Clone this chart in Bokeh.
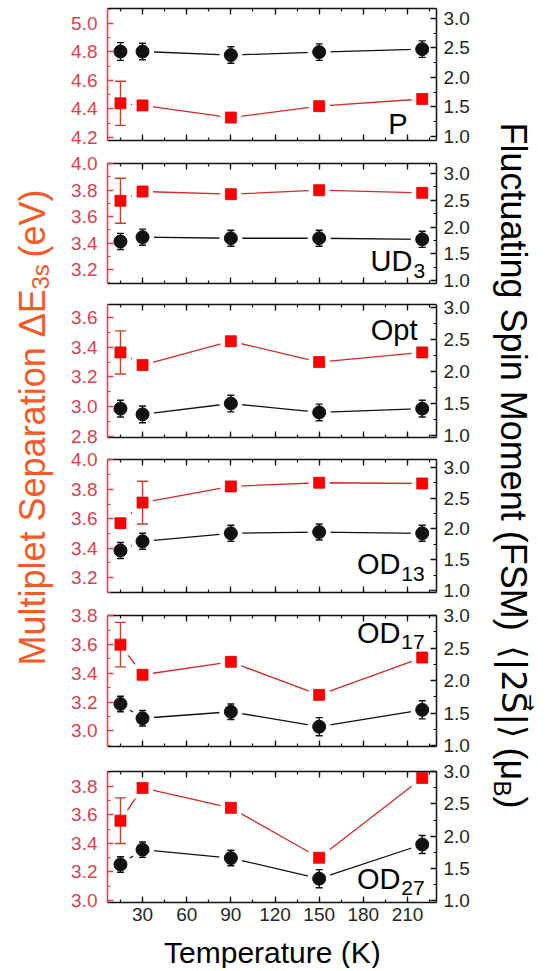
from math import pi
from bokeh.plotting import figure
from bokeh.models import Range1d, LinearAxis, SingleIntervalTicker, PrintfTickFormatter, Label
from bokeh.layouts import row, column
from bokeh.embed import file_html
from bokeh.resources import INLINE

# ---------------- data ----------------
temperature_K = [15, 30, 90, 150, 220]

sample_names = ["P", "UD", "Opt", "OD", "OD", "OD"]
sample_subscripts = ["", "3", "", "13", "17", "27"]

# Multiplet separation dE3s (eV), left axis, red squares
mult_P = [4.44, 4.425, 4.34, 4.42, 4.47]
mult_err_P = [0.155, 0, 0, 0, 0]
mult_UD3 = [3.72, 3.79, 3.77, 3.80, 3.78]
mult_err_UD3 = [0.17, 0, 0, 0, 0]
mult_Opt = [3.365, 3.28, 3.44, 3.30, 3.365]
mult_err_Opt = [0.145, 0, 0, 0, 0]
mult_OD13 = [3.57, 3.71, 3.82, 3.845, 3.84]
mult_err_OD13 = [0, 0.145, 0, 0, 0]
mult_OD17 = [3.60, 3.39, 3.48, 3.25, 3.51]
mult_err_OD17 = [0.155, 0, 0, 0, 0]
mult_OD27 = [3.56, 3.79, 3.65, 3.30, 3.86]
mult_err_OD27 = [0.16, 0, 0, 0, 0]

# Fluctuating spin moment (muB), right axis, black circles
fsm_P = [2.44, 2.44, 2.38, 2.43, 2.48]
fsm_err_P = [0.15, 0.14, 0.14, 0.14, 0.14]
fsm_UD3 = [1.73, 1.81, 1.79, 1.79, 1.77]
fsm_err_UD3 = [0.15, 0.15, 0.15, 0.15, 0.15]
fsm_Opt = [1.42, 1.33, 1.50, 1.36, 1.42]
fsm_err_Opt = [0.13, 0.13, 0.13, 0.13, 0.13]
fsm_OD13 = [1.65, 1.80, 1.93, 1.95, 1.93]
fsm_err_OD13 = [0.13, 0.13, 0.13, 0.13, 0.13]
fsm_OD17 = [1.64, 1.42, 1.52, 1.29, 1.55]
fsm_err_OD17 = [0.12, 0.12, 0.12, 0.14, 0.14]
fsm_OD27 = [1.56, 1.79, 1.66, 1.34, 1.87]
fsm_err_OD27 = [0.12, 0.12, 0.12, 0.14, 0.14]

mult_series = [mult_P, mult_UD3, mult_Opt, mult_OD13, mult_OD17, mult_OD27]
mult_errs = [mult_err_P, mult_err_UD3, mult_err_Opt, mult_err_OD13, mult_err_OD17, mult_err_OD27]
fsm_series = [fsm_P, fsm_UD3, fsm_Opt, fsm_OD13, fsm_OD17, fsm_OD27]
fsm_errs = [fsm_err_P, fsm_err_UD3, fsm_err_Opt, fsm_err_OD13, fsm_err_OD17, fsm_err_OD27]

x_limits = (6.2, 229.7)
left_limits = [(4.179, 5.105), (3.094, 4.002), (2.793, 3.687), (3.099, 4.003), (2.89, 3.803), (2.986, 3.905)]
right_limits = [(0.932, 3.169), (0.944, 3.187), (0.969, 3.047), (0.967, 3.13), (0.985, 3.003), (0.97, 3.003)]

# ---------------- layout / style ----------------
borders = [(8, 132, 11), (12, 120, 10), (11, 133, 11), (11, 133, 11), (12, 131, 12), (13, 131, 30)]
# (x of right edge of name, y centre of name, y centre of subscript) in data units of each panel
label_pos = [(210.0, 4.298, 4.298), (213.4, 3.268, 3.192), (216.8, 3.513, 3.513),
             (205.2, 3.294, 3.227), (205.2, 3.684, 3.615), (205.2, 3.154, 3.091)]

FONT = "Liberation Sans"
RED_AX = "#D6434F"
RED_TITLE = "#F25A28"
RED_MK = "#FF0000"
RED_LN = "#D42A2A"
RED_ERR = "#C8402A"
BLK = "#111111"
GRAY_TXT = "#262626"
PANEL_W = 425
XLAB_H = 36


def style_axis(ax, color, label_color, show_labels, standoff):
    ax.axis_line_color = color
    ax.axis_line_width = 1.5
    ax.major_tick_line_color = color
    ax.minor_tick_line_color = color
    ax.major_tick_line_width = 1.3
    ax.minor_tick_line_width = 1.2
    ax.major_tick_in = 6
    ax.major_tick_out = 0
    ax.minor_tick_in = 3
    ax.minor_tick_out = 0
    ax.major_label_text_font = FONT
    if show_labels:
        ax.major_label_text_color = label_color
        ax.major_label_text_font_size = "19px"
        ax.major_label_standoff = standoff
    else:
        ax.major_label_text_color = None
        ax.major_label_text_font_size = "0px"
        ax.major_label_standoff = 0


def errbars(p, xs, ys, es, color, cap, range_name):
    x = [a for a, e in zip(xs, es) if e > 0]
    lo = [b - e for b, e in zip(ys, es) if e > 0]
    hi = [b + e for b, e in zip(ys, es) if e > 0]
    if not x:
        return
    kw = {} if range_name is None else {"y_range_name": range_name}
    p.segment(x0=x, y0=lo, x1=x, y1=hi, line_color=color, line_width=1.4, **kw)
    p.scatter(x=x + x, y=lo + hi, marker="dash", size=cap, line_color=color, line_width=1.4, **kw)


panels = []
for i in range(6):
    bt, fh, bb = borders[i]
    p = figure(width=PANEL_W, height=bt + fh + bb,
               x_range=Range1d(*x_limits), y_range=Range1d(*left_limits[i]),
               output_backend="svg", toolbar_location=None,
               min_border_left=47, min_border_right=49,
               min_border_top=bt, min_border_bottom=bb,
               outline_line_color=None, background_fill_color="white",
               border_fill_color="white")
    p.extra_y_ranges = {"right": Range1d(*right_limits[i])}
    p.xgrid.visible = False
    p.ygrid.visible = False

    bottom = p.below[0]
    bottom.ticker = SingleIntervalTicker(interval=30, num_minor_ticks=2)
    style_axis(bottom, BLK, GRAY_TXT, i == 5, 5)

    left = p.left[0]
    left.ticker = SingleIntervalTicker(interval=0.2, num_minor_ticks=2)
    left.formatter = PrintfTickFormatter(format="%.1f")
    style_axis(left, RED_AX, RED_AX, True, 10)

    top = LinearAxis(ticker=SingleIntervalTicker(interval=30, num_minor_ticks=2))
    style_axis(top, BLK, GRAY_TXT, False, 0)
    p.add_layout(top, "above")

    right = LinearAxis(y_range_name="right",
                       ticker=SingleIntervalTicker(interval=0.5, num_minor_ticks=2),
                       formatter=PrintfTickFormatter(format="%.1f"))
    style_axis(right, BLK, GRAY_TXT, True, 7)
    p.add_layout(right, "right")

    m, me = mult_series[i], mult_errs[i]
    f, fe = fsm_series[i], fsm_errs[i]

    p.line(temperature_K, m, line_color=RED_LN, line_width=1.3)
    p.line(temperature_K, f, line_color=BLK, line_width=1.3, y_range_name="right")
    # gap around symbols (Origin style)
    p.scatter(temperature_K, m, marker="square", size=21, fill_color="white", line_color=None)
    p.scatter(temperature_K, f, marker="circle", size=23, fill_color="white", line_color=None,
              y_range_name="right")
    errbars(p, temperature_K, m, me, RED_ERR, 11, None)
    errbars(p, temperature_K, f, fe, BLK, 7, "right")
    p.scatter(temperature_K, m, marker="square", size=11, fill_color=RED_MK, line_color="#E00000",
              line_width=0.8)
    p.scatter(temperature_K, f, marker="circle", size=13, fill_color=BLK, line_color=BLK,
              y_range_name="right")

    lx, ly, sy = label_pos[i]
    p.add_layout(Label(x=lx, y=ly, text=sample_names[i], text_align="right",
                       text_baseline="middle", text_font=FONT, text_font_size="29px",
                       text_color="black"))
    if sample_subscripts[i]:
        p.add_layout(Label(x=lx + 0.6, y=sy, text=sample_subscripts[i], text_align="left",
                           text_baseline="middle", text_font=FONT, text_font_size="21px",
                           text_color="black"))
    panels.append(p)

PANELS_H = sum(b[0] + b[1] + b[2] for b in borders)
TOTAL_H = PANELS_H + XLAB_H

# x-axis title (coordinates = page pixels)
xlab = figure(width=PANEL_W, height=XLAB_H, x_range=Range1d(60, 485),
              y_range=Range1d(TOTAL_H, PANELS_H),
              x_axis_type=None, y_axis_type=None, output_backend="svg", toolbar_location=None,
              min_border=0, outline_line_color=None)
xlab.add_layout(Label(x=273, y=952, text="Temperature (K)", text_align="center",
                      text_baseline="middle", text_font=FONT, text_font_size="30px",
                      text_color="black"))

# left title (coordinates = page pixels)
lt = figure(width=60, height=TOTAL_H, x_range=Range1d(0, 60), y_range=Range1d(TOTAL_H, 0),
            x_axis_type=None, y_axis_type=None, output_backend="svg", toolbar_location=None,
            min_border=0, outline_line_color=None)
lt.add_layout(Label(x=32, y=665, text="Multiplet Separation \u0394E", angle=pi / 2,
                    text_align="left", text_baseline="middle", text_font=FONT,
                    text_font_size="36px", text_color=RED_TITLE))
lt.add_layout(Label(x=40, y=289, text="3s", angle=pi / 2, text_align="left",
                    text_baseline="middle", text_font=FONT, text_font_size="24px",
                    text_color=RED_TITLE))
lt.add_layout(Label(x=32, y=257, text="(eV)", angle=pi / 2, text_align="left",
                    text_baseline="middle", text_font=FONT, text_font_size="36px",
                    text_color=RED_TITLE))

# right title (coordinates = page pixels)
rt = figure(width=60, height=TOTAL_H, x_range=Range1d(485, 545), y_range=Range1d(TOTAL_H, 0),
            x_axis_type=None, y_axis_type=None, output_backend="svg", toolbar_location=None,
            min_border=0, outline_line_color=None)
rt.add_layout(Label(x=513, y=122, text="Fluctuating Spin Moment (FSM)", angle=-pi / 2,
                    text_align="left", text_baseline="middle", text_font=FONT,
                    text_font_size="36px", text_color="black"))
rt.add_layout(Label(x=513, y=645, text="\u27E8|2S\u20D7|\u27E9", angle=-pi / 2,
                    text_align="left", text_baseline="middle", text_font="DejaVu Sans",
                    text_font_size="34px", text_color="black"))
rt.add_layout(Label(x=513, y=747, text="(\u03BC", angle=-pi / 2, text_align="left",
                    text_baseline="middle", text_font=FONT, text_font_size="36px",
                    text_color="black"))
rt.add_layout(Label(x=502, y=780, text="B", angle=-pi / 2, text_align="left",
                    text_baseline="middle", text_font=FONT, text_font_size="24px",
                    text_color="black"))
rt.add_layout(Label(x=513, y=796, text=")", angle=-pi / 2, text_align="left",
                    text_baseline="middle", text_font=FONT, text_font_size="36px",
                    text_color="black"))

layout = row(lt, column(*panels, xlab), rt)

open("out.html", "w").write(file_html(layout, INLINE))
